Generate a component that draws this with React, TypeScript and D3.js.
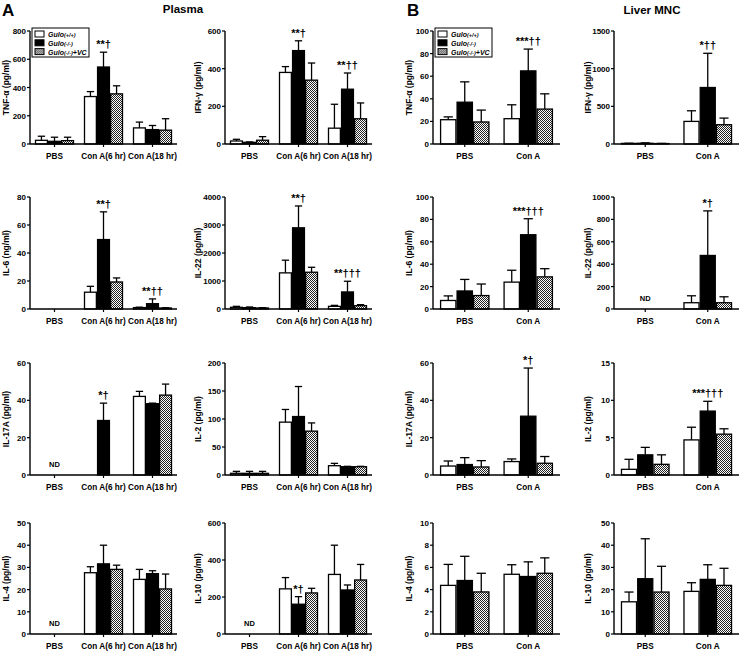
import React from 'react';
import * as d3 from 'd3';

const groups3 = ['PBS', 'Con A(6 hr)', 'Con A(18 hr)'];
const groups2 = ['PBS', 'Con A'];
const seriesNames = ['(+/+)', '(-/-)', '(-/-)+VC'];

// means and SD per group, order: Gulo(+/+), Gulo(-/-), Gulo(-/-)+VC ; null = not detected
const tnfPlasma = [[26, 19, 24], [336, 545, 355], [114, 102, 98]];
const tnfPlasmaSd = [[29, 29, 24], [35, 105, 57], [41, 29, 81]];
const ifnPlasma = [[16, 9, 20], [380, 496, 339], [84, 291, 134]];
const ifnPlasmaSd = [[9, 2, 19], [31, 52, 91], [127, 86, 84]];
const tnfLiver = [[21.5, 37, 19.5], [22.4, 64.7, 30.9]];
const tnfLiverSd = [[2.5, 18, 10.5], [12.3, 19.3, 13.5]];
const ifnLiver = [[8, 10, 6], [300, 750, 256]];
const ifnLiverSd = [[2, 5, 2], [141, 454, 88]];

const il6Plasma = [[0, 0, 0], [12, 49.6, 19.3], [1, 3.8, 0.7]];
const il6PlasmaSd = [[0, 0, 0], [4.2, 19.8, 2.9], [0.3, 3.4, 0.2]];
const il22Plasma = [[60, 48, 36], [1290, 2900, 1313], [95, 609, 119]];
const il22PlasmaSd = [[35, 24, 12], [453, 780, 177], [35, 382, 36]];
const il6Liver = [[7.6, 16.1, 12], [24, 66.3, 28.7]];
const il6LiverSd = [[4.1, 10.3, 10.3], [10.6, 14.3, 7.3]];
const il22Liver = [[null, null, null], [56, 478, 56]];
const il22LiverSd = [[0, 0, 0], [62, 398, 53]];

const il17Plasma = [[null, null, null], [0, 29.2, 0], [42.1, 38.2, 42.8]];
const il17PlasmaSd = [[0, 0, 0], [0, 9.3, 0], [2.7, 0.3, 5.9]];
const il2Plasma = [[3, 3, 3], [94.4, 104.4, 78.3], [16.6, 14.8, 14.8]];
const il2PlasmaSd = [[3.5, 3.5, 3.5], [22.6, 53.6, 14.7], [4.2, 0.7, 0.7]];
const il17Liver = [[4.8, 5.6, 4.3], [7.2, 31.5, 6.3]];
const il17LiverSd = [[2.7, 3.7, 3.4], [1.4, 25.8, 3.6]];
const il2Liver = [[0.76, 2.7, 1.43], [4.7, 8.56, 5.47]];
const il2LiverSd = [[1.34, 1.0, 1.27], [1.7, 1.31, 0.72]];

const il4Plasma = [[null, null, null], [27.6, 31.6, 29.1], [24.6, 27.2, 20.3]];
const il4PlasmaSd = [[0, 0, 0], [2.7, 8.4, 1.9], [4.5, 1.3, 6.7]];
const il10Plasma = [[null, null, null], [244, 161, 222], [322, 238, 292]];
const il10PlasmaSd = [[0, 0, 0], [61, 41, 25], [158, 27, 84]];
const il4Liver = [[4.38, 4.82, 3.79], [5.38, 5.18, 5.47]];
const il4LiverSd = [[1.89, 2.18, 1.68], [0.86, 1.32, 1.39]];
const il10Liver = [[14.5, 24.9, 18.9], [19.2, 24.6, 21.9]];
const il10LiverSd = [[4.4, 18, 11.6], [3.9, 6.6, 7.7]];

const FONT = '"Liberation Sans", Arial, sans-serif';

const colX = [[30, 177], [225, 372], [433, 560], [614, 739]];
const labelXs = [6, 198, 409, 588];
const rowY = [[31, 144], [197, 309], [363, 475], [523, 634]];

type Note = { g: number; text: string; dx?: number };

type PanelProps = {
  col: number;
  row: number;
  cats: string[];
  means: (number | null)[][];
  sds: number[][];
  ticks: number[];
  label: string;
  notes?: Note[];
  legend?: boolean;
};

const Panel = ({ col, row, cats, means, sds, ticks, label, notes = [], legend }: PanelProps) => {
  const [x0, x1] = colX[col];
  const [top, bottom] = rowY[row];
  const x = d3.scaleBand<string>().domain(cats).range([x0, x1]);
  const y = d3.scaleLinear().domain([0, ticks[ticks.length - 1]]).range([bottom, top]);
  const groupW = x.step() * (cats.length === 3 ? 0.8 : 0.78);
  const inner = d3.scaleBand<number>().domain([0, 1, 2]).range([0, groupW]);
  const bw = inner.bandwidth();
  const fills = ['#fff', '#000', 'url(#checker)'];

  return (
    <g>
      {/* bars */}
      {cats.map((c, gi) => {
        const gx = x(c)! + x.bandwidth() / 2 - groupW / 2;
        return means[gi].map((m, si) => {
          if (m === null || m === 0) return null;
          const bx = gx + inner(si)!;
          const sd = sds[gi][si];
          const cx = bx + bw / 2;
          return (
            <g key={`${gi}-${si}`}>
              {sd > 0 && (
                <g stroke="#000" strokeWidth={1.3}>
                  <line x1={cx} x2={cx} y1={y(m)} y2={y(m + sd)} />
                  <line x1={cx - bw * 0.28} x2={cx + bw * 0.28} y1={y(m + sd)} y2={y(m + sd)} />
                </g>
              )}
              <rect x={bx + 0.6} y={y(m)} width={bw - 1.2} height={bottom - y(m)}
                fill={fills[si]} stroke="#000" strokeWidth={1.3} />
            </g>
          );
        });
      })}
      {/* ND */}
      {cats.map((c, gi) =>
        means[gi][0] === null ? (
          <text key={'nd' + gi} x={x(c)! + x.bandwidth() / 2} y={bottom - 8} textAnchor="middle"
            fontSize={7.5} fontWeight="bold" fontFamily={FONT}>ND</text>
        ) : null
      )}
      {/* annotations */}
      {notes.map((n, i) => {
        const c = cats[n.g];
        const gx = x(c)! + x.bandwidth() / 2 - groupW / 2;
        const cx = gx + inner(1)! + bw / 2;
        const m = means[n.g][1] as number;
        return (
          <text key={'n' + i} x={cx + (n.dx || 0)} y={y(m + sds[n.g][1]) - 4} textAnchor="middle"
            fontSize={11} fontWeight="bold" fontFamily={FONT}>{n.text}</text>
        );
      })}
      {/* axes */}
      <line x1={x0} x2={x1} y1={bottom} y2={bottom} stroke="#000" strokeWidth={1.4} />
      <line x1={x0} x2={x0} y1={top} y2={bottom} stroke="#000" strokeWidth={1.4} />
      {cats.map((c) => (
        <g key={'xt' + c}>
          <line x1={x(c)! + x.bandwidth() / 2} x2={x(c)! + x.bandwidth() / 2} y1={bottom} y2={bottom + 3}
            stroke="#000" strokeWidth={1.2} />
          <text x={x(c)! + x.bandwidth() / 2} y={bottom + 15} textAnchor="middle" fontSize={8.2}
            fontWeight="bold" fontFamily={FONT}>{c}</text>
        </g>
      ))}
      {ticks.map((t) => (
        <g key={'yt' + t}>
          <line x1={x0 - 3} x2={x0} y1={y(t)} y2={y(t)} stroke="#000" strokeWidth={1.2} />
          <text x={x0 - 4} y={y(t) + 3} textAnchor="end" fontSize={8} fontWeight="bold"
            fontFamily={FONT}>{t}</text>
        </g>
      ))}
      <text transform={`translate(${labelXs[col] + 3},${(top + bottom) / 2}) rotate(-90)`} textAnchor="middle"
        fontSize={8.5} fontWeight="bold" fontFamily={FONT}>{label}</text>
      {legend && (
        <g transform={`translate(${x0 + 2},${top - 3})`}>
          <rect x={0} y={0} width={57} height={29} fill="#fff" stroke="#000" strokeWidth={1} />
          {seriesNames.map((s, i) => (
            <g key={s} transform={`translate(3,${3 + i * 8.8})`}>
              <rect x={0} y={0} width={9} height={6} fill={fills[i]} stroke="#000" strokeWidth={1} />
              <text x={13} y={6} fontSize={7} fontWeight="bold" fontStyle="italic" fontFamily={FONT}>
                Gulo<tspan fontSize={5.5}>{s.startsWith('(') ? s.slice(0, s.indexOf(')') + 1) : s}</tspan>
                {s.includes('+VC') ? '+VC' : ''}
              </text>
            </g>
          ))}
        </g>
      )}
    </g>
  );
};

export default function App() {
  return (
    <svg width={741} height={651} style={{ position: 'absolute', left: 0, top: 0, background: '#fff' }}>
      <defs>
        <pattern id="checker" width={2} height={2} patternUnits="userSpaceOnUse">
          <rect width={2} height={2} fill="#fff" />
          <rect width={1} height={1} fill="#222" />
          <rect x={1} y={1} width={1} height={1} fill="#222" />
        </pattern>
      </defs>
      <text x={2} y={16} fontSize={17} fontWeight="bold" fontFamily={FONT}>A</text>
      <text x={407} y={16} fontSize={17} fontWeight="bold" fontFamily={FONT}>B</text>
      <text x={183} y={13} textAnchor="middle" fontSize={11.5} fontWeight="bold" fontFamily={FONT}>Plasma</text>
      <text x={652} y={14} textAnchor="middle" fontSize={11.5} fontWeight="bold" fontFamily={FONT}>Liver MNC</text>

      <Panel col={0} row={0} cats={groups3} means={tnfPlasma} sds={tnfPlasmaSd} ticks={[0, 200, 400, 600, 800]}
        label="TNF-α (pg/ml)" legend notes={[{ g: 1, text: '**†' }]} />
      <Panel col={1} row={0} cats={groups3} means={ifnPlasma} sds={ifnPlasmaSd} ticks={[0, 200, 400, 600]}
        label="IFN-γ (pg/ml)" notes={[{ g: 1, text: '**†' }, { g: 2, text: '**††' }]} />
      <Panel col={2} row={0} cats={groups2} means={tnfLiver} sds={tnfLiverSd} ticks={[0, 20, 40, 60, 80, 100]}
        label="TNF-α (pg/ml)" legend notes={[{ g: 1, text: '***††' }]} />
      <Panel col={3} row={0} cats={groups2} means={ifnLiver} sds={ifnLiverSd} ticks={[0, 500, 1000, 1500]}
        label="IFN-γ (pg/ml)" notes={[{ g: 1, text: '*††' }]} />

      <Panel col={0} row={1} cats={groups3} means={il6Plasma} sds={il6PlasmaSd} ticks={[0, 20, 40, 60, 80]}
        label="IL-6 (ng/ml)" notes={[{ g: 1, text: '**†' }, { g: 2, text: '**††' }]} />
      <Panel col={1} row={1} cats={groups3} means={il22Plasma} sds={il22PlasmaSd} ticks={[0, 1000, 2000, 3000, 4000]}
        label="IL-22 (pg/ml)" notes={[{ g: 1, text: '**†' }, { g: 2, text: '**†††' }]} />
      <Panel col={2} row={1} cats={groups2} means={il6Liver} sds={il6LiverSd} ticks={[0, 20, 40, 60, 80, 100]}
        label="IL-6 (pg/ml)" notes={[{ g: 1, text: '***†††' }]} />
      <Panel col={3} row={1} cats={groups2} means={il22Liver} sds={il22LiverSd} ticks={[0, 200, 400, 600, 800, 1000]}
        label="IL-22 (pg/ml)" notes={[{ g: 1, text: '*†' }]} />

      <Panel col={0} row={2} cats={groups3} means={il17Plasma} sds={il17PlasmaSd} ticks={[0, 20, 40, 60]}
        label="IL-17A (pg/ml)" notes={[{ g: 1, text: '*†' }]} />
      <Panel col={1} row={2} cats={groups3} means={il2Plasma} sds={il2PlasmaSd} ticks={[0, 50, 100, 150, 200]}
        label="IL-2 (pg/ml)" />
      <Panel col={2} row={2} cats={groups2} means={il17Liver} sds={il17LiverSd} ticks={[0, 20, 40, 60]}
        label="IL-17A (pg/ml)" notes={[{ g: 1, text: '*†' }]} />
      <Panel col={3} row={2} cats={groups2} means={il2Liver} sds={il2LiverSd} ticks={[0, 5, 10, 15]}
        label="IL-2 (pg/ml)" notes={[{ g: 1, text: '***†††' }]} />

      <Panel col={0} row={3} cats={groups3} means={il4Plasma} sds={il4PlasmaSd} ticks={[0, 10, 20, 30, 40, 50]}
        label="IL-4 (pg/ml)" />
      <Panel col={1} row={3} cats={groups3} means={il10Plasma} sds={il10PlasmaSd} ticks={[0, 200, 400, 600]}
        label="IL-10 (pg/ml)" notes={[{ g: 1, text: '*†' }]} />
      <Panel col={2} row={3} cats={groups2} means={il4Liver} sds={il4LiverSd} ticks={[0, 2, 4, 6, 8, 10]}
        label="IL-4 (pg/ml)" />
      <Panel col={3} row={3} cats={groups2} means={il10Liver} sds={il10LiverSd} ticks={[0, 10, 20, 30, 40, 50]}
        label="IL-10 (pg/ml)" />
    </svg>
  );
}
